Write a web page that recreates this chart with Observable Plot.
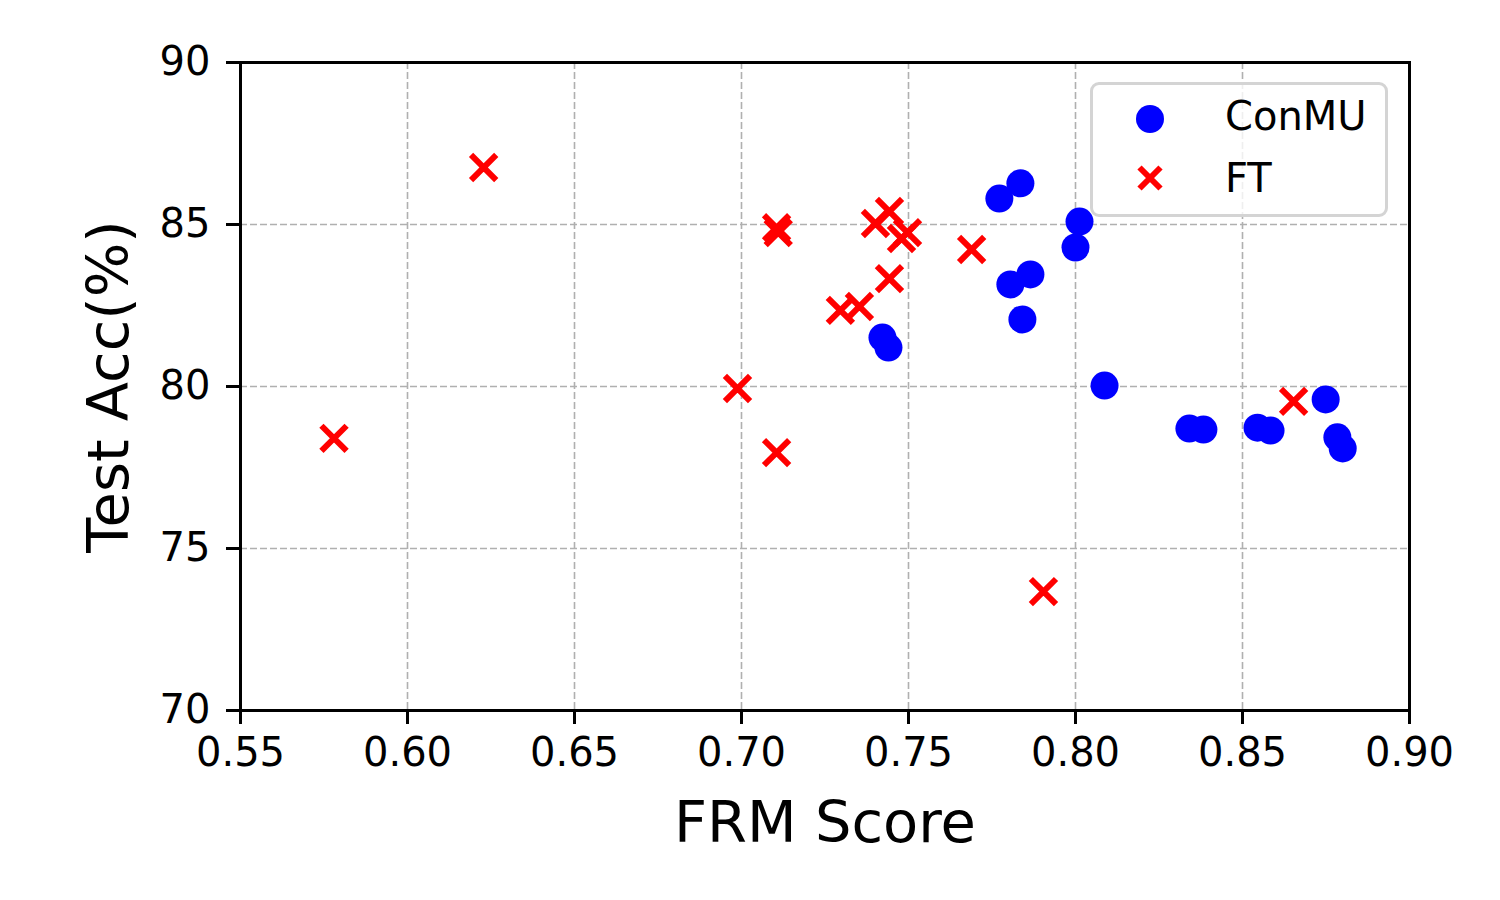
<!DOCTYPE html>
<html>
<head>
<meta charset="utf-8">
<script src="https://cdn.jsdelivr.net/npm/d3@7"></script>
<script src="https://cdn.jsdelivr.net/npm/@observablehq/plot@0.6"></script>
<style>
  body { margin: 0; background: #fff; }
  #wrap { position: relative; width: 1500px; height: 900px; font-family: "DejaVu Sans", sans-serif; }
  #legend { position: absolute; left: 1090px; top: 82px; width: 292px; height: 129px;
    border: 3px solid #d4d4d4; border-radius: 9px; background: rgba(255,255,255,0.8); }
</style>
</head>
<body>
<div id="wrap"></div>
<script>
// ConMU series
const conmuFRM = [0.7422, 0.7440, 0.7772, 0.7835, 0.8012, 0.8000, 0.7865, 0.7805, 0.7841, 0.8087, 0.8341, 0.8383, 0.8545, 0.8584, 0.8749, 0.8784, 0.8800];
const conmuAcc = [81.51, 81.20, 85.80, 86.27, 85.09, 84.29, 83.46, 83.15, 82.07, 80.03, 78.70, 78.67, 78.73, 78.64, 79.60, 78.43, 78.09];
// FT series
const ftFRM = [0.5780, 0.6228, 0.6988, 0.7105, 0.7105, 0.7110, 0.7401, 0.7443, 0.7479, 0.7497, 0.7689, 0.7443, 0.7296, 0.7353, 0.7904, 0.8653];
const ftAcc = [78.40, 86.76, 79.94, 77.96, 84.90, 84.75, 85.03, 85.40, 84.57, 84.75, 84.23, 83.33, 82.35, 82.47, 73.67, 79.54];
// axes
const xTicks = [0.55, 0.60, 0.65, 0.70, 0.75, 0.80, 0.85, 0.90];
const yTicks = [70, 75, 80, 85, 90];
const seriesNames = ["ConMU", "FT"];
const xLabel = "FRM Score";
const yLabel = "Test Acc(%)";

const conmu = conmuFRM.map((x, i) => ({x, y: conmuAcc[i]}));
const ft = ftFRM.map((x, i) => ({x, y: ftAcc[i]}));

const chart = Plot.plot({
  width: 1500,
  height: 900,
  marginLeft: 240,
  marginRight: 91,
  marginTop: 62,
  marginBottom: 190,
  style: {fontFamily: "DejaVu Sans", background: "white", color: "black"},
  x: {domain: [0.55, 0.90]},
  y: {domain: [70, 90]},
  marks: [
    Plot.gridX(xTicks, {stroke: "#b0b0b0", strokeOpacity: 1, strokeWidth: 1.6, strokeDasharray: "7,3"}),
    Plot.gridY(yTicks, {stroke: "#b0b0b0", strokeOpacity: 1, strokeWidth: 1.6, strokeDasharray: "7,3"}),
    Plot.axisX({ticks: xTicks, tickFormat: d3.format(".2f"), tickSize: 14, tickPadding: 13, fontSize: 40, strokeWidth: 3, label: null}),
    Plot.axisY({ticks: yTicks, tickFormat: d3.format("d"), tickSize: 14, tickPadding: 16, fontSize: 40, strokeWidth: 3, label: null}),
    Plot.dot(conmu, {x: "x", y: "y", r: 14, fill: "#0000ff", stroke: "none", symbol: "circle"}),
    Plot.dot(ft, {x: "x", y: "y", r: 11.5, stroke: "#ff0000", strokeWidth: 6, fill: "none", symbol: "times"}),
    Plot.frame({stroke: "black", strokeWidth: 3}),
    Plot.text([xLabel], {frameAnchor: "bottom", dy: 131, fontSize: 57.5, text: d => d, fill: "black", textAnchor: "middle"}),
    Plot.text([yLabel], {frameAnchor: "left", dx: -131, rotate: -90, fontSize: 57.5, text: d => d, fill: "black", textAnchor: "middle"})
  ]
});
const wrap = document.getElementById("wrap");
wrap.appendChild(chart);

// legend
const leg = document.createElement("div");
leg.id = "legend";
leg.innerHTML = `<svg width="292" height="129" style="position:absolute;left:0;top:0;overflow:visible">
  <circle cx="57" cy="34" r="14" fill="#0000ff"/>
  <path d="M${57-10.5},${93-10.5}L${57+10.5},${93+10.5}M${57-10.5},${93+10.5}L${57+10.5},${93-10.5}" stroke="#ff0000" stroke-width="6" fill="none"/>
  <text x="132" y="45" font-size="40" font-family="DejaVu Sans" fill="black">${seriesNames[0]}</text>
  <text x="132" y="107" font-size="40" font-family="DejaVu Sans" fill="black">${seriesNames[1]}</text>
</svg>`;
wrap.appendChild(leg);
</script>
</body>
</html>
